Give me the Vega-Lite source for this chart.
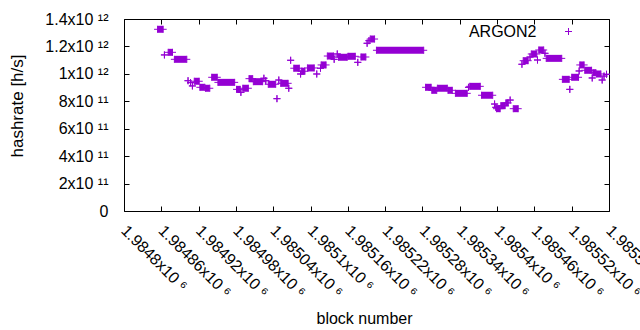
{
  "$schema": "https://vega.github.io/schema/vega-lite/v6.json",
  "width": 485,
  "height": 192,
  "autosize": {"type": "none"},
  "padding": {"left": 124, "top": 19, "right": 31, "bottom": 119},
  "background": "#ffffff",
  "config": {
    "view": {"stroke": "#000000", "strokeWidth": 1},
    "font": "Liberation Sans",
    "axis": {
      "domain": false,
      "grid": false,
      "tickColor": "#000000",
      "tickSize": -5,
      "tickWidth": 1,
      "labelColor": "#000000",
      "titleColor": "#000000",
      "labelFont": "Liberation Sans",
      "titleFont": "Liberation Sans",
      "labelFontSize": 16,
      "titleFontSize": 16,
      "titleFontWeight": "normal",
      "labelOverlap": false,
      "labelFlush": false
    }
  },
  "data": {
    "values": [
      {"s": 1984854, "e": 1984863, "h": 1.325e12},
      {"s": 1984865, "e": 1984865, "h": 1.138e12},
      {"s": 1984871, "e": 1984878, "h": 1.157e12},
      {"s": 1984881, "e": 1984901, "h": 1.106e12},
      {"s": 1984903, "e": 1984903, "h": 9.50e11},
      {"s": 1984907, "e": 1984907, "h": 9.36e11},
      {"s": 1984910, "e": 1984910, "h": 9.12e11},
      {"s": 1984913, "e": 1984921, "h": 9.46e11},
      {"s": 1984922, "e": 1984930, "h": 9.02e11},
      {"s": 1984931, "e": 1984938, "h": 8.95e11},
      {"s": 1984941, "e": 1984950, "h": 9.75e11},
      {"s": 1984951, "e": 1984978, "h": 9.38e11},
      {"s": 1984981, "e": 1984987, "h": 8.87e11},
      {"s": 1984988, "e": 1984988, "h": 8.65e11},
      {"s": 1984991, "e": 1985000, "h": 8.95e11},
      {"s": 1985001, "e": 1985007, "h": 9.65e11},
      {"s": 1985008, "e": 1985023, "h": 9.43e11},
      {"s": 1985025, "e": 1985025, "h": 9.68e11},
      {"s": 1985028, "e": 1985028, "h": 9.50e11},
      {"s": 1985032, "e": 1985044, "h": 9.24e11},
      {"s": 1985046, "e": 1985046, "h": 8.19e11},
      {"s": 1985049, "e": 1985049, "h": 9.55e11},
      {"s": 1985052, "e": 1985064, "h": 9.31e11},
      {"s": 1985065, "e": 1985065, "h": 8.95e11},
      {"s": 1985068, "e": 1985068, "h": 1.099e12},
      {"s": 1985073, "e": 1985082, "h": 1.041e12},
      {"s": 1985084, "e": 1985084, "h": 9.99e11},
      {"s": 1985085, "e": 1985091, "h": 1.019e12},
      {"s": 1985095, "e": 1985106, "h": 1.043e12},
      {"s": 1985110, "e": 1985110, "h": 9.99e11},
      {"s": 1985116, "e": 1985116, "h": 1.041e12},
      {"s": 1985117, "e": 1985125, "h": 1.065e12},
      {"s": 1985127, "e": 1985137, "h": 1.130e12},
      {"s": 1985138, "e": 1985138, "h": 1.106e12},
      {"s": 1985143, "e": 1985143, "h": 1.145e12},
      {"s": 1985145, "e": 1985159, "h": 1.121e12},
      {"s": 1985160, "e": 1985172, "h": 1.128e12},
      {"s": 1985176, "e": 1985176, "h": 1.084e12},
      {"s": 1985181, "e": 1985189, "h": 1.123e12},
      {"s": 1985191, "e": 1985191, "h": 1.223e12},
      {"s": 1985194, "e": 1985194, "h": 1.242e12},
      {"s": 1985196, "e": 1985203, "h": 1.254e12},
      {"s": 1985206, "e": 1985282, "h": 1.172e12},
      {"s": 1985285, "e": 1985294, "h": 9.02e11},
      {"s": 1985295, "e": 1985303, "h": 8.80e11},
      {"s": 1985304, "e": 1985320, "h": 8.95e11},
      {"s": 1985321, "e": 1985328, "h": 8.80e11},
      {"s": 1985333, "e": 1985352, "h": 8.58e11},
      {"s": 1985354, "e": 1985354, "h": 9.02e11},
      {"s": 1985356, "e": 1985373, "h": 9.09e11},
      {"s": 1985375, "e": 1985393, "h": 8.44e11},
      {"s": 1985396, "e": 1985396, "h": 7.80e11},
      {"s": 1985398, "e": 1985398, "h": 7.56e11},
      {"s": 1985399, "e": 1985405, "h": 7.46e11},
      {"s": 1985406, "e": 1985413, "h": 7.68e11},
      {"s": 1985414, "e": 1985418, "h": 7.88e11},
      {"s": 1985421, "e": 1985421, "h": 8.09e11},
      {"s": 1985426, "e": 1985434, "h": 7.46e11},
      {"s": 1985440, "e": 1985440, "h": 1.070e12},
      {"s": 1985442, "e": 1985450, "h": 1.096e12},
      {"s": 1985453, "e": 1985453, "h": 1.123e12},
      {"s": 1985455, "e": 1985464, "h": 1.145e12},
      {"s": 1985465, "e": 1985465, "h": 1.101e12},
      {"s": 1985467, "e": 1985475, "h": 1.174e12},
      {"s": 1985477, "e": 1985477, "h": 1.150e12},
      {"s": 1985479, "e": 1985504, "h": 1.113e12},
      {"s": 1985505, "e": 1985516, "h": 9.60e11},
      {"s": 1985517, "e": 1985517, "h": 8.87e11},
      {"s": 1985520, "e": 1985531, "h": 9.75e11},
      {"s": 1985532, "e": 1985532, "h": 1.021e12},
      {"s": 1985533, "e": 1985540, "h": 1.065e12},
      {"s": 1985541, "e": 1985552, "h": 1.026e12},
      {"s": 1985553, "e": 1985553, "h": 9.70e11},
      {"s": 1985554, "e": 1985559, "h": 1.008e12},
      {"s": 1985560, "e": 1985567, "h": 9.99e11},
      {"s": 1985569, "e": 1985569, "h": 9.55e11},
      {"s": 1985572, "e": 1985572, "h": 9.84e11},
      {"s": 1985576, "e": 1985576, "h": 9.97e11}
    ]
  },
  "layer": [
    {
      "mark": {"type": "rule", "strokeWidth": 7, "strokeCap": "butt", "color": "#9400d3"},
      "encoding": {
        "x": {
          "field": "s", "type": "quantitative",
          "scale": {"domain": [1984800, 1985580], "nice": false, "zero": false},
          "axis": {
            "orient": "bottom",
            "values": [1984800, 1984860, 1984920, 1984980, 1985040, 1985100, 1985160, 1985220, 1985280, 1985340, 1985400, 1985460, 1985520, 1985580],
            "labelExpr": "format(datum.value / 1000000, '.6~g') + 'x10  ⁶'",
            "labelAngle": 45,
            "labelAlign": "left",
            "labelBaseline": "top",
            "labelPadding": 16,
            "labelOffset": 5,
            "title": "block number",
            "titleX": 240,
            "titleY": 112,
            "titleAlign": "center",
            "titleBaseline": "alphabetic"
          }
        },
        "x2": {"field": "e"},
        "y": {
          "field": "h", "type": "quantitative",
          "scale": {"domain": [0, 1400000000000], "nice": false},
          "axis": {
            "orient": "left",
            "values": [0, 200000000000, 400000000000, 600000000000, 800000000000, 1000000000000, 1200000000000, 1400000000000],
            "labelExpr": "datum.value == 0 ? '0' : (datum.value >= 1e12 ? format(datum.value / 1e12, '~g') + 'x10  ¹²' : format(datum.value / 1e11, '~g') + 'x10  ¹¹')",
            "labelPadding": 21,
            "labelBaseline": "middle",
            "title": "hashrate [h/s]",
            "titleFontSize": 17,
            "titleX": -107,
            "titleY": 86.5,
            "titleAngle": 270,
            "titleAlign": "center",
            "titleBaseline": "middle"
          }
        }
      }
    },
    {
      "transform": [{"fold": ["s", "e"], "as": ["k", "b"]}],
      "mark": {"type": "point", "shape": "M-1,0H1M0,-1V1", "size": 49, "filled": false, "strokeWidth": 1, "opacity": 1},
      "encoding": {
        "x": {
          "field": "b", "type": "quantitative",
          "scale": {"domain": [1984800, 1985580], "nice": false, "zero": false},
          "axis": {
            "orient": "top",
            "values": [1984800, 1984860, 1984920, 1984980, 1985040, 1985100, 1985160, 1985220, 1985280, 1985340, 1985400, 1985460, 1985520, 1985580],
            "labels": false,
            "title": null
          }
        },
        "y": {
          "field": "h", "type": "quantitative",
          "scale": {"domain": [0, 1400000000000], "nice": false},
          "axis": {
            "orient": "right",
            "values": [0, 200000000000, 400000000000, 600000000000, 800000000000, 1000000000000, 1200000000000, 1400000000000],
            "labels": false,
            "title": null
          }
        },
        "color": {
          "datum": "ARGON2",
          "scale": {"range": ["#9400d3"]},
          "legend": {
            "orient": "none",
            "legendX": 436.5,
            "legendY": 4.5,
            "title": null,
            "padding": 0,
            "labelFont": "Liberation Sans",
            "labelFontSize": 16,
            "labelColor": "#000000",
            "labelAlign": "right",
            "labelOffset": -40,
            "symbolType": "M-1,0H1M0,-1V1",
            "symbolSize": 49,
            "symbolStrokeWidth": 1,
            "symbolFillColor": "transparent"
          }
        }
      }
    }
  ],
  "resolve": {"axis": {"x": "independent", "y": "independent"}}
}
